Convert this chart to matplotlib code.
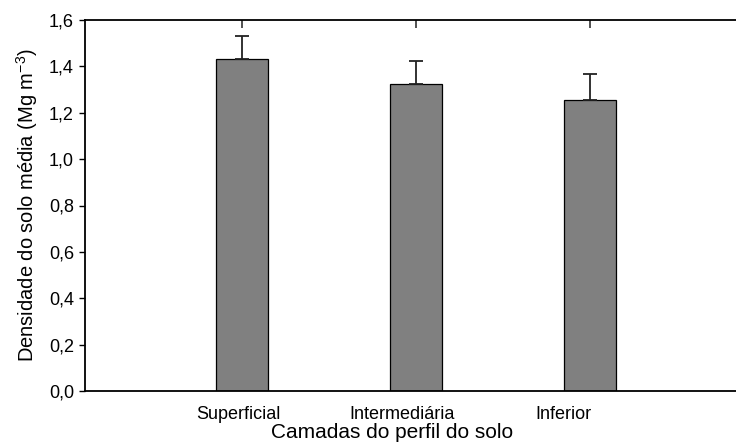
import matplotlib
matplotlib.use("Agg")
import matplotlib.pyplot as plt
import numpy as np

# Soil bulk density by profile layer
layers = ["Superficial", "Intermediária", "Inferior"]
density = [1.43, 1.325, 1.255]
density_err = [0.10, 0.10, 0.113]
yticks = [0.0, 0.2, 0.4, 0.6, 0.8, 1.0, 1.2, 1.4, 1.6]

plt.rcParams["font.family"] = ["Liberation Sans", "DejaVu Sans"]

fig = plt.figure(figsize=(7.36, 4.43), dpi=100)
ax = fig.add_axes([85 / 736, 1 - 391 / 443, 1 - 85 / 736, (391 - 20) / 443])

pos = np.arange(1, len(layers) + 1)
ax.bar(pos, density, width=0.3, color="#808080", edgecolor="black", linewidth=0.9, zorder=2)
ax.errorbar(pos, density, yerr=[np.zeros(len(density)), density_err], fmt="none",
            ecolor="#222222", elinewidth=1.3, capsize=5, capthick=1.3, zorder=3)

ax.set_xlim(0.1, 3.84)
ax.set_ylim(0, 1.6)
ax.set_yticks(yticks)
ax.set_yticklabels([f"{v:.1f}".replace(".", ",") for v in yticks], fontsize=13)

# category labels sit slightly left of the bars
label_pos = [0.983, 1.92, 2.85]
ax.set_xticks(label_pos)
ax.set_xticklabels(layers, fontsize=13)
ax.tick_params(axis="x", bottom=False, pad=7)
ax.tick_params(axis="y", direction="out", length=4, width=1, pad=4)

# short inward ticks on the top spine at each bar
sec = ax.secondary_xaxis("top")
sec.set_xticks(pos)
sec.set_xticklabels([])
sec.tick_params(direction="in", length=6, width=1.2, color="#333333")
sec.spines["top"].set_visible(False)

for s in ["left", "top", "bottom"]:
    ax.spines[s].set_linewidth(1.3)
ax.spines["right"].set_visible(False)

ax.set_xlabel("Camadas do perfil do solo", fontsize=15, labelpad=0)
ax.xaxis.set_label_coords(0.4716, -0.085)
ax.set_ylabel("Densidade do solo média (Mg m$^{\\mathregular{-3}}$)", fontsize=14.5, labelpad=6)

fig.savefig("out.png", dpi=100)
